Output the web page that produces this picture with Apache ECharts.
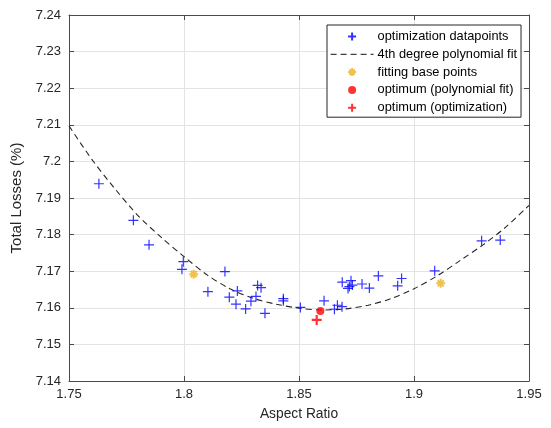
<!DOCTYPE html>
<html>
<head>
<meta charset="utf-8">
<script src="https://cdn.jsdelivr.net/npm/echarts@6/dist/echarts.min.js"></script>
<style>
  html, body { margin: 0; padding: 0; background: #fff; }
  #chart { width: 551px; height: 428px; }
</style>
</head>
<body>
<div id="chart"></div>
<script>
// optimization datapoints
const optX = [1.7630, 1.7780, 1.7848, 1.7997, 1.7991, 1.8104, 1.8178, 1.8197, 1.8232, 1.8226,
  1.8268, 1.8291, 1.8313, 1.8320, 1.8335, 1.8352, 1.8432, 1.8432, 1.8506, 1.8609,
  1.8654, 1.8667, 1.8687, 1.8688, 1.8726, 1.8713, 1.8732, 1.8719, 1.8774, 1.8806,
  1.8845, 1.8929, 1.8946, 1.9090, 1.9294, 1.9375]
const optY = [7.1939, 7.1839, 7.1772, 7.1726, 7.1705, 7.1644, 7.1699, 7.1629, 7.1646, 7.1610,
  7.1597, 7.1618, 7.1631, 7.1661, 7.1655, 7.1585, 7.1625, 7.1619, 7.1601, 7.1619,
  7.1596, 7.1607, 7.1603, 7.1670, 7.1674, 7.1653, 7.1662, 7.1658, 7.1665, 7.1654,
  7.1687, 7.1660, 7.1680, 7.1701, 7.1783, 7.1785]

// 4th degree polynomial fit
const fitX = [1.75, 1.76, 1.77, 1.78, 1.79, 1.80, 1.81, 1.82, 1.83, 1.84, 1.85,
  1.86, 1.87, 1.88, 1.89, 1.90, 1.91, 1.92, 1.93, 1.94, 1.95]
const fitY = [7.2097, 7.2005, 7.1925, 7.1852, 7.1793, 7.1740, 7.1690, 7.1652, 7.1626, 7.1610, 7.1599,
  7.1594, 7.1597, 7.1607, 7.1625, 7.1652, 7.1687, 7.1729, 7.1772, 7.1821, 7.1880]

// fitting base points
const baseX = [1.8042, 1.9116]
const baseY = [7.1692, 7.1667]

// optima
const optFitX = [1.8593]
const optFitY = [7.1591]
const optOptX = [1.8577]
const optOptY = [7.1567]

const xTicks = [1.75, 1.8, 1.85, 1.9, 1.95]
const yTicks = [7.14, 7.15, 7.16, 7.17, 7.18, 7.19, 7.2, 7.21, 7.22, 7.23, 7.24]

const zip = (xs, ys) => xs.map((x, i) => [x, ys[i]])

const PLUS = 'path://M5,0L5,10M0,5L10,5'
const STAR = 'path://M5,0L5,10M0,5L10,5M1.6,1.6L8.4,8.4M8.4,1.6L1.6,8.4'
const textColor = '#262626'
const axisColor = '#4a4a4a'
const font = 'Liberation Sans, Arial, Helvetica, sans-serif'

const xAxisBase = {
  type: 'value',
  min: xTicks[0],
  max: xTicks[xTicks.length - 1],
  interval: 0.05,
  axisLine: { show: true, onZero: false, lineStyle: { color: axisColor, width: 1 } },
  axisTick: { show: true, inside: true, length: 5, lineStyle: { color: axisColor } },
  splitLine: { show: false }
}
const yAxisBase = {
  type: 'value',
  min: yTicks[0],
  max: yTicks[yTicks.length - 1],
  interval: 0.01,
  axisLine: { show: true, onZero: false, lineStyle: { color: axisColor, width: 1 } },
  axisTick: { show: true, inside: true, length: 5, lineStyle: { color: axisColor } },
  splitLine: { show: false }
}

const chart = echarts.init(document.getElementById('chart'))
chart.setOption({
  animation: false,
  textStyle: { fontFamily: font },
  grid: { left: 69, right: 22, top: 15, bottom: 47, containLabel: false },
  xAxis: [
    Object.assign({}, xAxisBase, {
      position: 'bottom',
      name: 'Aspect Ratio',
      nameLocation: 'middle',
      nameGap: 26,
      nameTextStyle: { color: textColor, fontSize: 13.8, fontFamily: font },
      axisLabel: {
        color: textColor, fontSize: 13, fontFamily: font, margin: 7,
        formatter: v => String(Number(v.toFixed(2)))
      },
      splitLine: { show: true, lineStyle: { color: '#e3e3e3', width: 1 } }
    }),
    Object.assign({}, xAxisBase, { position: 'top', axisLabel: { show: false } })
  ],
  yAxis: [
    Object.assign({}, yAxisBase, {
      position: 'left',
      name: 'Total Losses (%)',
      nameLocation: 'middle',
      nameGap: 39,
      nameTextStyle: { color: textColor, fontSize: 15, fontFamily: font },
      axisLabel: {
        color: textColor, fontSize: 13, fontFamily: font, margin: 8,
        formatter: v => Number(v.toFixed(2)).toString()
      },
      splitLine: { show: true, lineStyle: { color: '#e3e3e3', width: 1 } }
    }),
    Object.assign({}, yAxisBase, { position: 'right', axisLabel: { show: false } })
  ],
  legend: {
    orient: 'vertical',
    left: 327,
    top: 25,
    padding: [5, 4, 3, 3],
    itemWidth: 43,
    itemHeight: 8,
    itemGap: 4.8,
    backgroundColor: '#fff',
    borderColor: '#262626',
    borderWidth: 1,
    textStyle: { color: '#000', fontSize: 12.8, fontFamily: font, padding: [0, 0, 0, -1] },
    data: [
      { name: 'optimization datapoints' },
      {
        name: '4th degree polynomial fit',
        itemStyle: { color: 'rgba(0,0,0,0)', borderWidth: 0 },
        lineStyle: { color: '#404040', width: 1.2, type: [6, 4] }
      },
      { name: 'fitting base points' },
      { name: 'optimum (polynomial fit)' },
      { name: 'optimum (optimization)' }
    ]
  },
  series: [
    {
      name: 'optimization datapoints',
      type: 'scatter',
      symbol: PLUS,
      symbolSize: 10,
      itemStyle: { color: '#0000ff', borderColor: '#0000ff', borderWidth: 1.2 },
      data: zip(optX, optY),
      z: 3
    },
    {
      name: '4th degree polynomial fit',
      type: 'line',
      smooth: 0.3,
      showSymbol: false,
      symbol: 'none',
      lineStyle: { color: '#262626', width: 1.1, type: [6, 4] },
      itemStyle: { color: '#262626' },
      data: zip(fitX, fitY),
      z: 2
    },
    {
      name: 'fitting base points',
      type: 'scatter',
      symbol: STAR,
      symbolSize: 9,
      itemStyle: { color: '#EDB120', borderColor: '#EDB120', borderWidth: 2 },
      data: zip(baseX, baseY),
      z: 4
    },
    {
      name: 'optimum (polynomial fit)',
      type: 'scatter',
      symbol: 'circle',
      symbolSize: 8,
      itemStyle: { color: '#ff0000' },
      data: zip(optFitX, optFitY),
      z: 5
    },
    {
      name: 'optimum (optimization)',
      type: 'scatter',
      symbol: PLUS,
      symbolSize: 10,
      itemStyle: { color: '#ff0000', borderColor: '#ff0000', borderWidth: 2.2 },
      data: zip(optOptX, optOptY),
      z: 5
    }
  ]
})
</script>
</body>
</html>
